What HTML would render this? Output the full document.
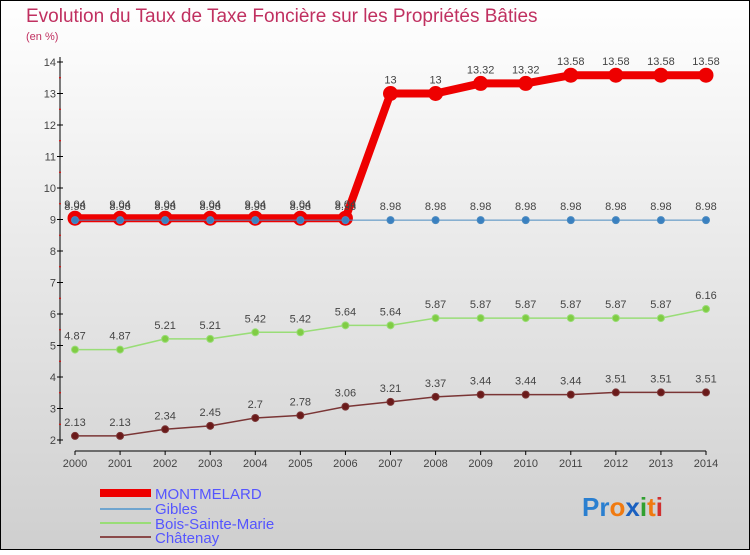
<!DOCTYPE html>
<html><head><meta charset="utf-8"><style>
body{margin:0;width:750px;height:550px;overflow:hidden;font-family:"Liberation Sans",sans-serif}
svg text{font-family:"Liberation Sans",sans-serif}
</style></head><body>
<svg width="750" height="550" xmlns="http://www.w3.org/2000/svg" id="chart">
<defs><linearGradient id="bg" x1="0" y1="0" x2="0" y2="1"><stop offset="0" stop-color="#ffffff"/><stop offset="1" stop-color="#cfcfcf"/></linearGradient></defs>
<rect x="0.5" y="0.5" width="749" height="549" fill="url(#bg)" stroke="#000"/>
<text x="26" y="22" font-size="19" fill="#c03060">Evolution du Taux de Taxe Foncière sur les Propriétés Bâties</text>
<text x="26" y="40" font-size="11" fill="#c03060">(en %)</text>
<g id="axes"></g><g id="series"></g>
<g>
<rect x="100" y="489" width="51" height="8" fill="#e00"/>
<text x="155" y="499" font-size="15" fill="#5555ff">MONTMELARD</text>
<line x1="100" y1="509" x2="151" y2="509" stroke="#6fa5cf" stroke-width="2"/>
<text x="155" y="514" font-size="15" fill="#5555ff">Gibles</text>
<line x1="100" y1="523" x2="151" y2="523" stroke="#99dd77" stroke-width="2"/>
<text x="155" y="529" font-size="15" fill="#5555ff">Bois-Sainte-Marie</text>
<line x1="100" y1="537" x2="151" y2="537" stroke="#8a4a4a" stroke-width="2"/>
<text x="155" y="543" font-size="15" fill="#5555ff">Châtenay</text>
</g>
<text x="582" y="516" font-size="26" font-weight="bold"><tspan fill="#2a7fd0">Pr</tspan><tspan fill="#f07a10">o</tspan><tspan fill="#1a60c0">x</tspan><tspan fill="#30a030">i</tspan><tspan fill="#f07a10">t</tspan><tspan fill="#d03030">i</tspan></text>
</svg>
<script>
const years=[2000,2001,2002,2003,2004,2005,2006,2007,2008,2009,2010,2011,2012,2013,2014];
const montmelard=[9.04,9.04,9.04,9.04,9.04,9.04,9.04,13,13,13.32,13.32,13.58,13.58,13.58,13.58];
const gibles=[8.98,8.98,8.98,8.98,8.98,8.98,8.98,8.98,8.98,8.98,8.98,8.98,8.98,8.98,8.98];
const bois=[4.87,4.87,5.21,5.21,5.42,5.42,5.64,5.64,5.87,5.87,5.87,5.87,5.87,5.87,6.16];
const chatenay=[2.13,2.13,2.34,2.45,2.7,2.78,3.06,3.21,3.37,3.44,3.44,3.44,3.51,3.51,3.51];
const yTicks=[2,3,4,5,6,7,8,9,10,11,12,13,14];
const NS="http://www.w3.org/2000/svg";
const X=i=>75+i*(706-75)/(years.length-1);
const Y=v=>440-(v-2)*(440-62)/12;
function mk(t,a,p){const e=document.createElementNS(NS,t);for(const k in a)e.setAttribute(k,a[k]);p.appendChild(e);return e;}
const ax=document.getElementById('axes'),sr=document.getElementById('series');
const yl=mk('line',{x1:60,y1:57,x2:60,y2:444,stroke:'#000'},ax);


const xl=mk('line',{x1:75,y1:451,x2:706,y2:451,stroke:'#000'},ax);


yTicks.forEach(v=>{mk('line',{x1:57,x2:63,y1:Y(v),y2:Y(v),stroke:'#000'},ax);
if(v<14)mk('line',{x1:59,x2:61,y1:Y(v+0.5),y2:Y(v+0.5),stroke:'#e00'},ax);
const t=mk('text',{x:56,y:Y(v)+4,'font-size':11,fill:'#444','text-anchor':'end'},ax);t.textContent=v;

});
years.forEach((y,i)=>{mk('line',{x1:X(i),x2:X(i),y1:451,y2:455,stroke:'#000'},ax);
const t=mk('text',{x:X(i),y:467,'font-size':11,fill:'#444','text-anchor':'middle'},ax);t.textContent=y;

});
function draw(vals,name,color,w,r,fill){
const g=mk('g',{},sr);


mk('polyline',{points:vals.map((v,i)=>X(i)+','+Y(v)).join(' '),fill:'none',stroke:color,'stroke-width':w,'stroke-linejoin':'round'},g);
vals.forEach((v,i)=>{const c=mk('circle',{cx:X(i),cy:Y(v),r:r,fill:fill,stroke:color},g);


const t=mk('text',{x:X(i),y:Y(v)-10,'font-size':11,fill:'#444','text-anchor':'middle'},g);t.textContent=v;

});}
draw(chatenay,'chatenay','#7a3535',1.5,3.5,'#6a1a1a');
draw(bois,'bois-sainte-marie','#99dd77',1.5,3.5,'#80cc44');
draw(montmelard,'montmelard','#e00',8,7,'#e00');
draw(gibles,'gibles','#4a8ac0',1,3.5,'#3a80c0');
</script>
</body></html>
